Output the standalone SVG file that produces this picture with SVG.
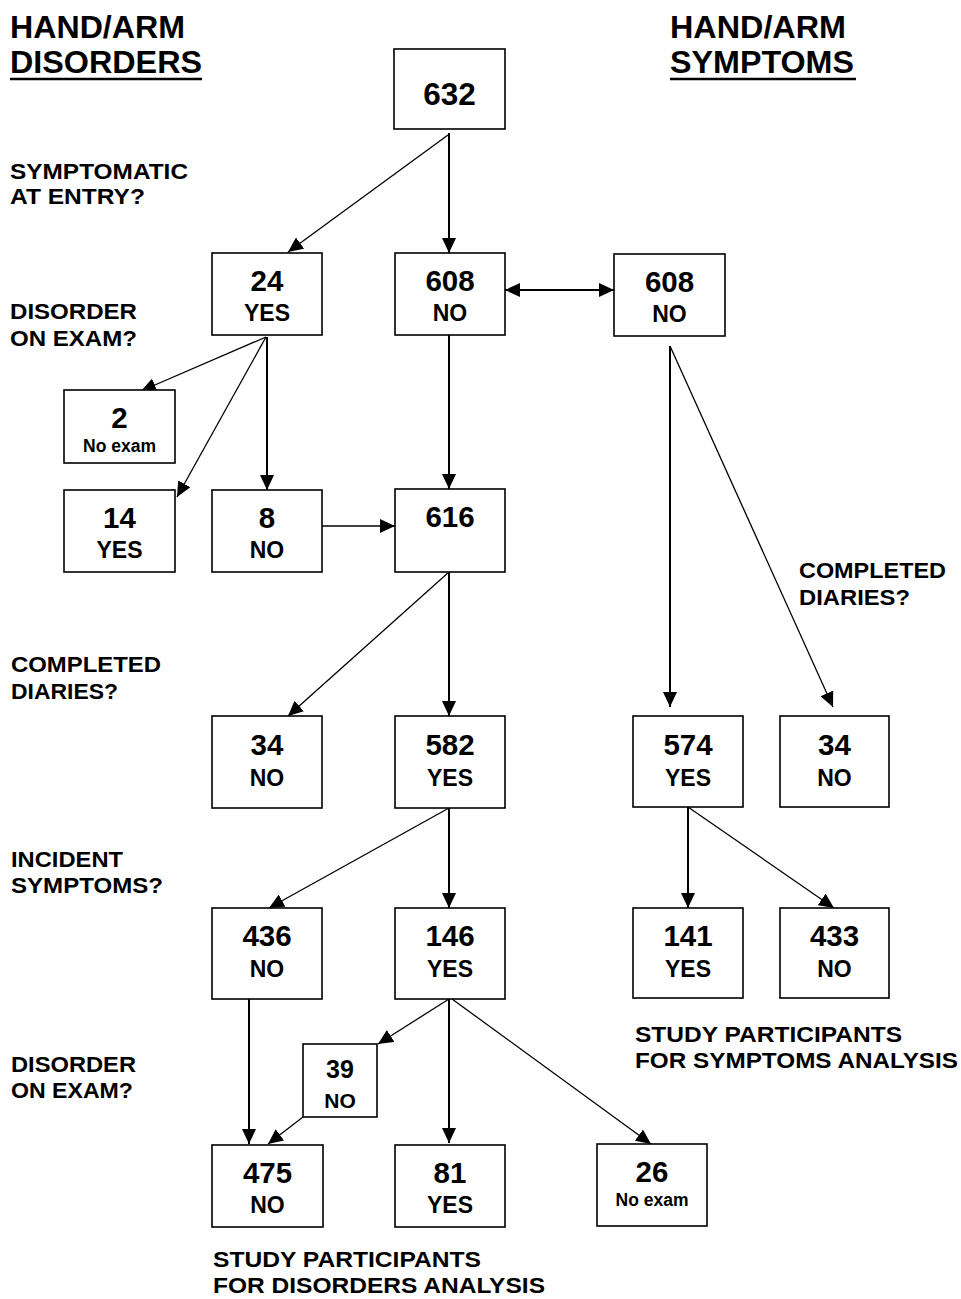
<svg xmlns="http://www.w3.org/2000/svg" width="961" height="1299" viewBox="0 0 961 1299">
<style>
text{font-family:"Liberation Sans",Arial,sans-serif;font-weight:bold;fill:#000}
.box{fill:#fff;stroke:#000;stroke-width:1.6}
.num{font-size:29.5px;text-anchor:middle}
.big{font-size:31.5px;text-anchor:middle}
.lab{font-size:23px;text-anchor:middle}
.sm{font-size:17.5px;text-anchor:middle}
.q{font-size:22.5px}
.hd{font-size:31.5px}
.c{stroke:#000;fill:none}
.thick{stroke-width:2}
.thin{stroke-width:1.3}
</style>
<defs>
<marker id="ah" markerUnits="userSpaceOnUse" markerWidth="16" markerHeight="14" refX="15" refY="7" orient="auto">
<path d="M0,0 L15,7 L0,14 z" fill="#000"/>
</marker>
<marker id="ahs" markerUnits="userSpaceOnUse" markerWidth="16" markerHeight="14" refX="15" refY="7" orient="auto-start-reverse">
<path d="M0,0 L15,7 L0,14 z" fill="#000"/>
</marker>
</defs>

<g id="headers">
<text class="hd" x="10" y="38" textLength="175" lengthAdjust="spacingAndGlyphs">HAND/ARM</text>
<text class="hd" x="10" y="73" textLength="192" lengthAdjust="spacingAndGlyphs">DISORDERS</text>
<line x1="10" y1="79" x2="202" y2="79" stroke="#000" stroke-width="2.5"/>
<text class="hd" x="670" y="38" textLength="176" lengthAdjust="spacingAndGlyphs">HAND/ARM</text>
<text class="hd" x="670" y="73" textLength="184" lengthAdjust="spacingAndGlyphs">SYMPTOMS</text>
<line x1="670" y1="79" x2="856" y2="79" stroke="#000" stroke-width="2.5"/>
</g>

<g id="questions">
<text class="q" x="10" y="179" textLength="178" lengthAdjust="spacingAndGlyphs">SYMPTOMATIC</text>
<text class="q" x="10" y="204" textLength="135" lengthAdjust="spacingAndGlyphs">AT ENTRY?</text>
<text class="q" x="10" y="319" textLength="127" lengthAdjust="spacingAndGlyphs">DISORDER</text>
<text class="q" x="10" y="346" textLength="127" lengthAdjust="spacingAndGlyphs">ON EXAM?</text>
<text class="q" x="11" y="672" textLength="150" lengthAdjust="spacingAndGlyphs">COMPLETED</text>
<text class="q" x="11" y="699" textLength="107" lengthAdjust="spacingAndGlyphs">DIARIES?</text>
<text class="q" x="799" y="578" textLength="147" lengthAdjust="spacingAndGlyphs">COMPLETED</text>
<text class="q" x="799" y="605" textLength="111" lengthAdjust="spacingAndGlyphs">DIARIES?</text>
<text class="q" x="11" y="867" textLength="112" lengthAdjust="spacingAndGlyphs">INCIDENT</text>
<text class="q" x="11" y="893" textLength="152" lengthAdjust="spacingAndGlyphs">SYMPTOMS?</text>
<text class="q" x="11" y="1072" textLength="125" lengthAdjust="spacingAndGlyphs">DISORDER</text>
<text class="q" x="11" y="1098" textLength="122" lengthAdjust="spacingAndGlyphs">ON EXAM?</text>
<text class="q" x="635" y="1042" textLength="267" lengthAdjust="spacingAndGlyphs">STUDY PARTICIPANTS</text>
<text class="q" x="635" y="1068" textLength="323" lengthAdjust="spacingAndGlyphs">FOR SYMPTOMS ANALYSIS</text>
<text class="q" x="213" y="1267" textLength="268" lengthAdjust="spacingAndGlyphs">STUDY PARTICIPANTS</text>
<text class="q" x="213" y="1293" textLength="332" lengthAdjust="spacingAndGlyphs">FOR DISORDERS ANALYSIS</text>
</g>

<g id="connectors">
<line class="c thin" x1="448" y1="135" x2="288" y2="252" marker-end="url(#ah)"/>
<line class="c thick" x1="449" y1="133" x2="449" y2="253" marker-end="url(#ah)"/>
<line class="c thick" x1="505" y1="290" x2="614" y2="290" marker-start="url(#ahs)" marker-end="url(#ah)"/>
<line class="c thin" x1="266" y1="337" x2="141" y2="391" marker-end="url(#ah)"/>
<line class="c thin" x1="266" y1="337" x2="177" y2="497" marker-end="url(#ah)"/>
<line class="c thick" x1="267" y1="337" x2="267" y2="490" marker-end="url(#ah)"/>
<line class="c thin" x1="322" y1="526" x2="395" y2="526" marker-end="url(#ah)"/>
<line class="c thick" x1="449" y1="335" x2="449" y2="489" marker-end="url(#ah)"/>
<line class="c thick" x1="670" y1="346" x2="670" y2="707" marker-end="url(#ah)"/>
<line class="c thin" x1="670" y1="346" x2="833" y2="707" marker-end="url(#ah)"/>
<line class="c thin" x1="449" y1="572" x2="288" y2="716" marker-end="url(#ah)"/>
<line class="c thick" x1="449" y1="572" x2="449" y2="716" marker-end="url(#ah)"/>
<line class="c thin" x1="449" y1="808" x2="269" y2="908" marker-end="url(#ah)"/>
<line class="c thick" x1="449" y1="808" x2="449" y2="908" marker-end="url(#ah)"/>
<line class="c thick" x1="688" y1="807" x2="688" y2="908" marker-end="url(#ah)"/>
<line class="c thin" x1="688" y1="807" x2="834" y2="908" marker-end="url(#ah)"/>
<line class="c thin" x1="449" y1="999" x2="378" y2="1044" marker-end="url(#ah)"/>
<line class="c thick" x1="449" y1="999" x2="449" y2="1143" marker-end="url(#ah)"/>
<line class="c thin" x1="452" y1="999" x2="651" y2="1144" marker-end="url(#ah)"/>
<line class="c thick" x1="249" y1="999" x2="249" y2="1144" marker-end="url(#ah)"/>
<line class="c thin" x1="303" y1="1117" x2="268" y2="1144" marker-end="url(#ah)"/>
</g>

<g id="n632"><rect class="box" x="394" y="49" width="111" height="80"/><text class="big" x="449.5" y="105">632</text></g>
<g id="n24"><rect class="box" x="212" y="253" width="110" height="82"/><text class="num" x="267" y="291">24</text><text class="lab" x="267" y="321">YES</text></g>
<g id="n608a"><rect class="box" x="395" y="253" width="110" height="82"/><text class="num" x="450" y="291">608</text><text class="lab" x="450" y="321">NO</text></g>
<g id="n608b"><rect class="box" x="614" y="254" width="111" height="82"/><text class="num" x="669.5" y="292">608</text><text class="lab" x="669.5" y="322">NO</text></g>
<g id="n2"><rect class="box" x="64" y="390" width="111" height="73"/><text class="num" x="119.5" y="428">2</text><text class="sm" x="119.5" y="452">No exam</text></g>
<g id="n14"><rect class="box" x="64" y="490" width="111" height="82"/><text class="num" x="119.5" y="528">14</text><text class="lab" x="119.5" y="558">YES</text></g>
<g id="n8"><rect class="box" x="212" y="490" width="110" height="82"/><text class="num" x="267" y="528">8</text><text class="lab" x="267" y="558">NO</text></g>
<g id="n616"><rect class="box" x="395" y="489" width="110" height="83"/><text class="num" x="450" y="527">616</text></g>
<g id="n34a"><rect class="box" x="212" y="716" width="110" height="92"/><text class="num" x="267" y="755">34</text><text class="lab" x="267" y="786">NO</text></g>
<g id="n582"><rect class="box" x="395" y="716" width="110" height="92"/><text class="num" x="450" y="755">582</text><text class="lab" x="450" y="786">YES</text></g>
<g id="n574"><rect class="box" x="633" y="716" width="110" height="91"/><text class="num" x="688" y="755">574</text><text class="lab" x="688" y="786">YES</text></g>
<g id="n34b"><rect class="box" x="780" y="716" width="109" height="91"/><text class="num" x="834.5" y="755">34</text><text class="lab" x="834.5" y="786">NO</text></g>
<g id="n436"><rect class="box" x="212" y="908" width="110" height="91"/><text class="num" x="267" y="946">436</text><text class="lab" x="267" y="977">NO</text></g>
<g id="n146"><rect class="box" x="395" y="908" width="110" height="91"/><text class="num" x="450" y="946">146</text><text class="lab" x="450" y="977">YES</text></g>
<g id="n141"><rect class="box" x="633" y="908" width="110" height="90"/><text class="num" x="688" y="946">141</text><text class="lab" x="688" y="977">YES</text></g>
<g id="n433"><rect class="box" x="780" y="908" width="109" height="90"/><text class="num" x="834.5" y="946">433</text><text class="lab" x="834.5" y="977">NO</text></g>
<g id="n39"><rect class="box" x="303" y="1044" width="74" height="73"/><text class="num" x="340" y="1078" style="font-size:25px">39</text><text class="lab" x="340" y="1108" style="font-size:21px">NO</text></g>
<g id="n475"><rect class="box" x="212" y="1145" width="111" height="82"/><text class="num" x="267.5" y="1183">475</text><text class="lab" x="267.5" y="1213">NO</text></g>
<g id="n81"><rect class="box" x="395" y="1145" width="110" height="82"/><text class="num" x="450" y="1183">81</text><text class="lab" x="450" y="1213">YES</text></g>
<g id="n26"><rect class="box" x="597" y="1144" width="110" height="82"/><text class="num" x="652" y="1182">26</text><text class="sm" x="652" y="1206">No exam</text></g>
</svg>
